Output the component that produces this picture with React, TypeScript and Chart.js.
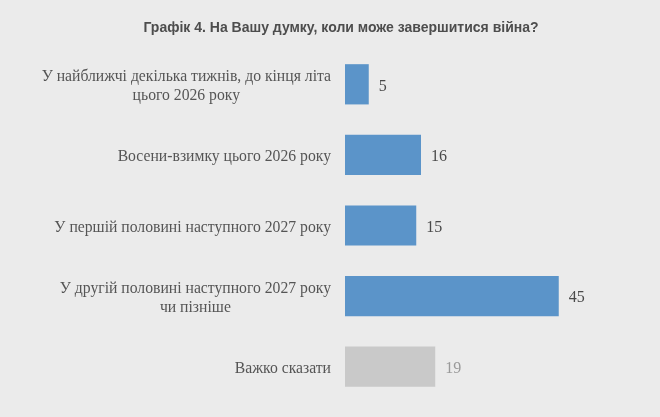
import React, { useEffect, useRef } from "react";
import { Chart, registerables, Plugin } from "chart.js";

Chart.register(...registerables);

// chart values
const titleText = "Графік 4. На Вашу думку, коли може завершитися війна?";
const categories: (string | string[])[] = [
  ["У найближчі декілька тижнів, до кінця літа", "цього 2026 року"],
  "Восени-взимку цього 2026 року",
  "У першій половині наступного 2027 року",
  ["У другій половині наступного 2027 року", "чи пізніше"],
  "Важко сказати",
];
const shares = [5, 16, 15, 45, 19];
const barColors = ["#5b94c9", "#5b94c9", "#5b94c9", "#5b94c9", "#c9c9c9"];
const valueColors = ["#4a4a4a", "#4a4a4a", "#4a4a4a", "#4a4a4a", "#9a9a9a"];

const SERIF = '"Liberation Serif", "Times New Roman", serif';

// title centred on the whole canvas, not on the chart area
const pageTitle: Plugin<"bar"> = {
  id: "pageTitle",
  afterDraw(chart) {
    const { ctx } = chart;
    ctx.save();
    ctx.font = "bold 14px Arial, sans-serif";
    ctx.fillStyle = "#4d4d4d";
    ctx.textAlign = "center";
    ctx.textBaseline = "middle";
    ctx.fillText(titleText, 341, 28);
    ctx.restore();
  },
};

// category labels: right-aligned block, lines centered inside it
const categoryLabels: Plugin<"bar"> = {
  id: "categoryLabels",
  afterDraw(chart) {
    const { ctx, chartArea } = chart;
    const yScale = chart.scales.y;
    ctx.save();
    ctx.font = `15.7px ${SERIF}`;
    ctx.fillStyle = "#555555";
    ctx.textAlign = "center";
    ctx.textBaseline = "middle";
    const lineH = 19;
    categories.forEach((label, i) => {
      const lines = Array.isArray(label) ? label : [label];
      const widest = Math.max(...lines.map((l) => ctx.measureText(l).width));
      const cx = chartArea.left - 14 - widest / 2;
      const cy = yScale.getPixelForValue(i) + 2;
      lines.forEach((line, j) => {
        ctx.fillText(line, cx, cy + (j - (lines.length - 1) / 2) * lineH);
      });
    });
    ctx.restore();
  },
};

// value labels right of each bar
const valueLabels: Plugin<"bar"> = {
  id: "valueLabels",
  afterDatasetsDraw(chart) {
    const { ctx } = chart;
    const meta = chart.getDatasetMeta(0);
    ctx.save();
    ctx.font = `16px ${SERIF}`;
    ctx.textAlign = "left";
    ctx.textBaseline = "middle";
    meta.data.forEach((bar, i) => {
      ctx.fillStyle = valueColors[i];
      ctx.fillText(String(shares[i]), bar.x + 10, bar.y + 2);
    });
    ctx.restore();
  },
};

const App: React.FC = () => {
  const canvasRef = useRef<HTMLCanvasElement>(null);
  const chartRef = useRef<Chart<"bar"> | null>(null);

  useEffect(() => {
    document.body.style.margin = "0";
    if (!canvasRef.current) return;
    const ctx = canvasRef.current.getContext("2d");
    if (!ctx) return;

    if (chartRef.current) chartRef.current.destroy();

    chartRef.current = new Chart(ctx, {
      type: "bar",
      data: {
        labels: categories,
        datasets: [
          {
            data: shares,
            backgroundColor: barColors,
            borderWidth: 0,
            categoryPercentage: 1,
            barPercentage: 0.57,
          },
        ],
      },
      options: {
        indexAxis: "y",
        animation: false,
        responsive: false,
        layout: { padding: { left: 345, right: 30, top: 49, bottom: 15 } },
        scales: {
          x: { display: false, min: 0, max: 60 },
          y: { display: false },
        },
        plugins: {
          legend: { display: false },
          tooltip: { enabled: false },
          title: { display: false },
        },
      },
      plugins: [pageTitle, categoryLabels, valueLabels],
    });

    return () => {
      if (chartRef.current) {
        chartRef.current.destroy();
        chartRef.current = null;
      }
    };
  }, []);

  return (
    <div style={{ width: 660, height: 417, background: "#ebebeb" }}>
      <canvas ref={canvasRef} width={660} height={417}></canvas>
    </div>
  );
};

export default App;
